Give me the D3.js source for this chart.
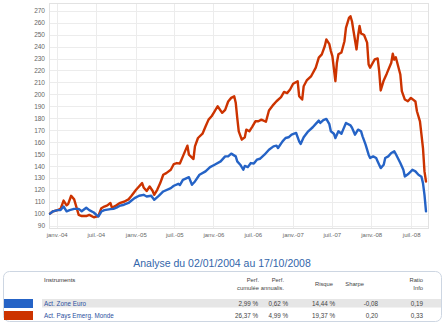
<!DOCTYPE html>
<html>
<head>
<meta charset="utf-8">
<script src="https://cdn.jsdelivr.net/npm/d3@7"></script>
<style>
  html, body { margin: 0; padding: 0; background: #fff; }
  svg { display: block; font-family: "Liberation Sans", Arial, sans-serif; }
</style>
</head>
<body>
<svg id="chart" width="445" height="328"></svg>
<script>
// Weekly observations, indexed by week number from the first valuation (02/01/2004)
const redWeeks = [0,2,5,7,9,11,12,14,16,19,21,24,26,29,32,34,36,38,40,41,44,46,49,52,54,57,61,62,64,66,68,69,71,73,75,77,80,82,84,86,88,91,92,95,96,98,101,103,105,107,109,111,114,116,118,120,122,123,124,125,127,129,130,132,134,136,138,140,143,145,148,150,153,155,157,159,161,164,165,167,168,170,173,176,178,180,182,183,185,186,187,189,190,191,193,195,196,198,199,200,201,203,204,205,206,208,210,211,212,215,217,218,219,221,223,226,227,228,229,232,233,235,237,239,242,243,245,246,247,248,249];
const redValues = [100,102,103,104,111,107,108,115,112,99,98,98,99,97,98,104.6,106,107,109,105,107,108.8,110,112,115,120,125.6,122,119,122.8,119,115.8,120,125.6,132.6,134,136.8,141.6,142.4,142,148,157,149.4,145.8,156.4,163.4,167,173,178.8,181.6,185.8,190,184.5,187,194,197,198.4,193,180.2,169,162,164,170.4,169,173,177.4,177.4,178.8,177,186.4,191.4,194.2,197.6,202,201,204,208.8,211,198.4,195.6,206.8,211.6,215.3,222.3,230.7,233.5,240.5,246,242,236.2,232,211,226.5,233.5,235,244.5,255.7,264,265.4,261,253,237.6,249,257.2,251,249.7,243.3,225,222.3,229.2,230,219.4,203.2,211.6,217.3,226.5,234,229,231,216.6,202.6,195.6,194.2,197,194,185.8,177.4,166.2,155,135.4,127];

const blueWeeks = [0,2,5,7,9,11,13,16,19,21,24,26,29,32,34,36,40,42,44,46,49,52,54,56,59,62,64,67,69,72,75,80,82,85,86,88,92,94,96,99,103,106,109,113,116,118,120,123,124,126,128,129,131,133,135,137,139,142,145,148,150,151,154,156,158,160,163,165,166,168,171,174,176,178,179,181,183,185,186,188,189,191,193,194,196,199,200,202,204,206,207,209,211,212,214,216,217,219,221,222,224,226,228,229,232,234,235,237,239,240,242,244,246,247,248,249];
const blueValues = [100,102,103,103,106,102,103,104,104,102,105,103,101,97.6,101.8,103,103.8,104,105,106.5,107.5,109,111,113,115,115.8,114.4,115,111.6,115,118.6,121.4,123.4,125,124,128.4,130.6,124.2,127,132.6,135.4,139,141,143.8,148,148,150.3,148,143.8,141,136.8,140,139,142.4,142,145.2,146,149.4,153.6,156.4,157,155,160.6,163.4,164,166.2,167.6,160.6,158.4,164,169,172.4,175.2,178,176,178.4,179.4,175,169,167,163.4,169,167,170,176,174,172,166.2,170.4,169,164.8,157.8,149.4,146.6,148,146.6,143.8,138.2,141,146.6,148,150.8,152.2,150,142.4,136.8,131.2,133,135.4,136.8,135.4,132.6,131,125.6,115.8,102];

const yTicks = [90,100,110,120,130,140,150,160,170,180,190,200,210,220,230,240,250,260,270];
const xTickWeeks = [4.4,30.3,56.8,82.3,108.2,134.3,160.8,186.6,212.7,239.2];
const xTickLabels = ["janv.-04","juil.-04","janv.-05","juil.-05","janv.-06","juil.-06","janv.-07","juil.-07","janv.-08","juil.-08"];

const title = "Analyse du 02/01/2004 au 17/10/2008";
const instruments = ["Act. Zone Euro", "Act. Pays Emerg. Monde"];
const colors = ["#2563c6", "#cc3300"];
const columns = [["Perf.", "cumulée"], ["Perf.", "annualis."], ["Risque"], ["Sharpe"], ["Ratio", "Info"]];
const perfCumulee = ["2,99 %", "26,37 %"];
const perfAnnualis = ["0,62 %", "4,99 %"];
const risque = ["14,44 %", "19,37 %"];
const sharpe = ["-0,08", "0,20"];
const ratioInfo = ["0,19", "0,33"];

const svg = d3.select("#chart");
const plotLeft = 49, plotRight = 428, plotTop = 3, plotBottom = 228;

const x = d3.scaleLinear().domain([0, 249]).range([50, 426]);
const y = d3.scaleLinear().domain([88, 276.5]).range([plotBottom, plotTop]);

// grid
const grid = svg.append("g");
grid.selectAll("line.h").data(yTicks).join("line")
  .attr("x1", plotLeft).attr("x2", plotRight)
  .attr("y1", d => Math.round(y(d)) + 0.5).attr("y2", d => Math.round(y(d)) + 0.5)
  .attr("stroke", "#ececec").attr("stroke-width", 1);
grid.selectAll("line.v").data(xTickWeeks).join("line")
  .attr("y1", plotTop).attr("y2", plotBottom)
  .attr("x1", d => Math.round(x(d)) + 0.5).attr("x2", d => Math.round(x(d)) + 0.5)
  .attr("stroke", "#ececec").attr("stroke-width", 1);
svg.append("rect").attr("x", plotLeft + 0.5).attr("y", plotTop + 0.5)
  .attr("width", plotRight - plotLeft).attr("height", plotBottom - plotTop)
  .attr("fill", "none").attr("stroke", "#e2e2e2");

// axes
const yAxis = svg.append("g").attr("transform", `translate(${plotLeft},0)`)
  .call(d3.axisLeft(y).tickValues(yTicks).tickSize(0).tickPadding(4));
yAxis.select(".domain").remove();
yAxis.selectAll("text").attr("font-size", 6.5).attr("fill", "#666")
  .attr("font-family", "Liberation Sans, Arial, sans-serif");

const xAxis = svg.append("g").attr("transform", `translate(0,${plotBottom})`)
  .call(d3.axisBottom(x).tickValues(xTickWeeks).tickFormat((d, i) => xTickLabels[i]).tickSize(0).tickPadding(5));
xAxis.select(".domain").remove();
xAxis.selectAll("text").attr("font-size", 6).attr("fill", "#666")
  .attr("font-family", "Liberation Sans, Arial, sans-serif");

// series
const series = [
  { weeks: redWeeks, values: redValues, color: colors[1] },
  { weeks: blueWeeks, values: blueValues, color: colors[0] }
];
const line = d3.line().x(d => x(d[0])).y(d => y(d[1]));
svg.append("g").selectAll("path").data(series).join("path")
  .attr("d", s => line(s.weeks.map((w, i) => [w, s.values[i]])))
  .attr("fill", "none").attr("stroke", s => s.color)
  .attr("stroke-width", 2.4).attr("stroke-linejoin", "round").attr("stroke-linecap", "round");

// title
svg.append("text").attr("x", 222).attr("y", 267).attr("text-anchor", "middle")
  .attr("font-size", 10.5).attr("fill", "#3366aa").text(title);

// table
svg.append("rect").attr("x", 3.5).attr("y", 271.5).attr("width", 438).attr("height", 50)
  .attr("rx", 6).attr("fill", "#fff").attr("stroke", "#cdd6e2");
svg.append("rect").attr("x", 42).attr("y", 299).attr("width", 399).attr("height", 8.5).attr("fill", "#e6e6e6");

svg.append("text").attr("x", 44).attr("y", 282).attr("font-size", 6).attr("fill", "#333").text("Instruments");

const colRight = [259, 284, 333, 364, 423];
columns.forEach((c, i) => {
  const t = svg.append("text").attr("text-anchor", "end").attr("font-size", 5.8).attr("fill", "#444");
  if (c.length === 2) {
    t.append("tspan").attr("x", colRight[i]).attr("y", 282).text(c[0]);
    t.append("tspan").attr("x", colRight[i]).attr("y", 290).text(c[1]);
  } else {
    t.append("tspan").attr("x", colRight[i]).attr("y", 286).text(c[0]);
  }
});

const rowY = [305.5, 317.5];
const valRight = [258, 288, 335, 378, 423];
const cols = [perfCumulee, perfAnnualis, risque, sharpe, ratioInfo];
instruments.forEach((name, r) => {
  svg.append("rect").attr("x", 4).attr("y", rowY[r] - 6.5).attr("width", 29).attr("height", 9)
    .attr("fill", colors[r]);
  svg.append("text").attr("x", 44).attr("y", rowY[r]).attr("font-size", 6.3).attr("fill", "#2a4f9e").text(name);
  cols.forEach((col, i) => {
    svg.append("text").attr("x", valRight[i]).attr("y", rowY[r]).attr("text-anchor", "end")
      .attr("font-size", 6.3).attr("fill", "#444").text(col[r]);
  });
});
</script>
</body>
</html>
